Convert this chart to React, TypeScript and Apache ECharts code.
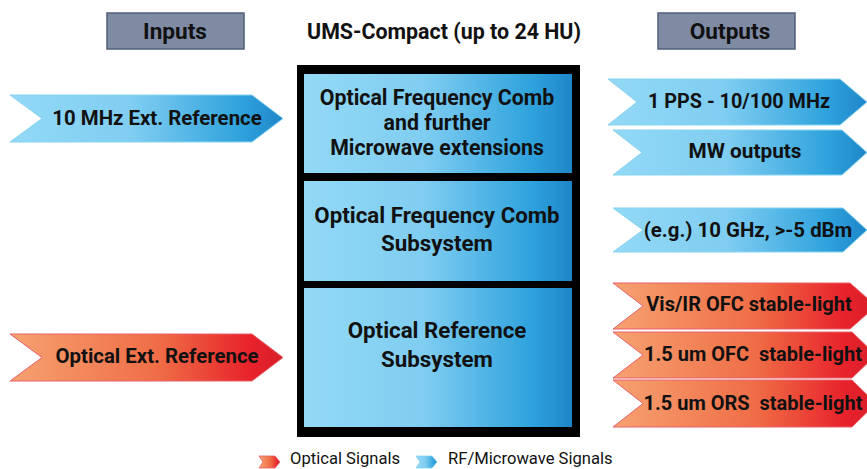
import React, { useEffect, useRef } from "react";
import * as echarts from "echarts";

// ---- content ----
const headerLabels = ["Inputs", "UMS-Compact (up to 24 HU)", "Outputs"];
const inputLabels = ["10 MHz Ext. Reference", "Optical Ext. Reference"];
const inputKinds = ["rf", "optical"];
const outputLabels = [
  "1 PPS - 10/100 MHz",
  "MW outputs",
  "(e.g.) 10 GHz, >-5 dBm",
  "Vis/IR OFC stable-light",
  "1.5 um OFC  stable-light",
  "1.5 um ORS  stable-light",
];
const outputKinds = ["rf", "rf", "rf", "optical", "optical", "optical"];
const panelLines = [
  ["Optical Frequency Comb", "and further", "Microwave extensions"],
  ["Optical Frequency Comb", "Subsystem"],
  ["Optical Reference", "Subsystem"],
];
const legendLabels = ["Optical Signals", "RF/Microwave Signals"];
const legendKinds = ["optical", "rf"];

// ---- layout (pixels) ----
const FONT = "Roboto, 'Open Sans', sans-serif";
// arrows: [left, top, bottom, notchX, pointStartX, tipX, textCx, textCy, fontSize]
const inputLayout = [
  [10, 95, 142, 42, 252, 283, 157, 118, 20.4],
  [10, 334, 381, 42, 252, 283, 157, 356, 20.4],
];
const outputLayout = [
  [608, 79, 125, 637, 840, 867, 739, 101, 19.8],
  [613, 130, 175, 642, 842, 867, 745, 151, 20.8],
  [613, 208, 252, 643, 843, 867, 748, 230, 20.4],
  [613, 283, 329, 643, 850, 876, 749, 304, 20],
  [613, 332, 378, 643, 852, 876, 753, 354, 20],
  [613, 380, 427, 643, 852, 876, 753, 403, 20],
];
// panels: [x0, y0, x1, y1, textCy, lineHeight, fontSize]
const panelLayout = [
  [304, 74, 572, 173, 122.5, 25, 21.3],
  [304, 181, 572, 281, 229, 28, 22.3],
  [304, 288, 572, 427, 344.5, 29, 22.3],
];

function grad(kind: string) {
  if (kind === "optical") {
    return new echarts.graphic.LinearGradient(0, 0, 1, 0, [
      { offset: 0, color: "#f6a271" },
      { offset: 0.55, color: "#ef6c45" },
      { offset: 0.88, color: "#e8222b" },
      { offset: 1, color: "#d81f2a" },
    ]);
  }
  return new echarts.graphic.LinearGradient(0, 0, 1, 0, [
    { offset: 0, color: "#93d9f6" },
    { offset: 0.45, color: "#7fcdf1" },
    { offset: 0.85, color: "#2ea2dc" },
    { offset: 1, color: "#1f86c9" },
  ]);
}
function edge(kind: string) {
  return kind === "optical" ? "#e7606a" : "#86d3f2";
}

function arrow(l: number[], kind: string, label: string) {
  const [x0, t, b, nx, px, tx, cx, cy, fs] = l;
  const my = (t + b) / 2;
  return [
    {
      type: "polygon",
      shape: {
        points: [
          [x0, t],
          [px, t],
          [tx, my],
          [px, b],
          [x0, b],
          [nx, my],
        ],
      },
      style: { fill: grad(kind), stroke: edge(kind), lineWidth: 1 },
    },
    {
      type: "text",
      x: cx,
      y: cy,
      style: {
        text: label,
        fontSize: fs,
        fontWeight: "bold",
        fontFamily: FONT,
        fill: "#111",
        align: "center",
        verticalAlign: "middle",
      },
    },
  ];
}

export default function App() {
  const ref = useRef<HTMLDivElement>(null);
  useEffect(() => {
    if (!ref.current) return;
    const chart = echarts.init(ref.current, undefined, { renderer: "svg" });
    const els: any[] = [];

    // header boxes
    const headerBoxes = [
      [107, 13, 244, 49, 175],
      null,
      [658, 13, 795, 49, 730],
    ];
    headerLabels.forEach((h, i) => {
      const hb = headerBoxes[i];
      if (hb) {
        els.push({
          type: "rect",
          shape: { x: hb[0], y: hb[1], width: hb[2] - hb[0], height: hb[3] - hb[1] },
          style: { fill: "#7f8ba3", stroke: "#52607a", lineWidth: 1.5 },
        });
        els.push({
          type: "text",
          x: hb[4],
          y: 31,
          style: {
            text: h,
            fontSize: 22.6,
            fontWeight: "bold",
            fontFamily: FONT,
            fill: "#111",
            align: "center",
            verticalAlign: "middle",
          },
        });
      } else {
        els.push({
          type: "text",
          x: 444,
          y: 31,
          style: {
            text: h,
            fontSize: 21.4,
            fontWeight: "bold",
            fontFamily: FONT,
            fill: "#111",
            align: "center",
            verticalAlign: "middle",
          },
        });
      }
    });

    // main frame
    els.push({
      type: "rect",
      shape: { x: 297, y: 65, width: 283, height: 372 },
      style: { fill: "#000" },
    });
    panelLayout.forEach((p: number[], i) => {
      els.push({
        type: "rect",
        shape: { x: p[0], y: p[1], width: p[2] - p[0], height: p[3] - p[1] },
        style: { fill: grad("rf") },
      });
      els.push({
        type: "text",
        x: 437,
        y: p[4],
        style: {
          text: panelLines[i].join("\n"),
          fontSize: p[6],
          lineHeight: p[5],
          fontWeight: "bold",
          fontFamily: FONT,
          fill: "#111",
          align: "center",
          verticalAlign: "middle",
        },
      });
    });

    inputLabels.forEach((lab, i) => {
      els.push(...arrow(inputLayout[i], inputKinds[i], lab));
    });
    outputLabels.forEach((lab, i) => {
      els.push(...arrow(outputLayout[i], outputKinds[i], lab));
    });

    // legend
    const legendPos = [
      [259, 290],
      [416, 448],
    ];
    legendLabels.forEach((lab, i) => {
      const [ax, tx] = legendPos[i];
      const kind = legendKinds[i];
      els.push({
        type: "polygon",
        shape: {
          points: [
            [ax, 456],
            [ax + 16, 456],
            [ax + 21, 462],
            [ax + 16, 468],
            [ax, 468],
            [ax + 4, 462],
          ],
        },
        style: { fill: grad(kind), stroke: edge(kind), lineWidth: 0.8 },
      });
      els.push({
        type: "text",
        x: tx,
        y: 458.5,
        style: {
          text: lab,
          fontSize: 16.6,
          fontFamily: FONT,
          fill: "#111",
          align: "left",
          verticalAlign: "middle",
        },
      });
    });

    chart.setOption({
      animation: false,
      backgroundColor: "#ffffff",
      graphic: { elements: els },
    });
    return () => chart.dispose();
  }, []);
  return <div ref={ref} style={{ width: 867, height: 469, position: "absolute", left: 0, top: 0 }} />;
}
